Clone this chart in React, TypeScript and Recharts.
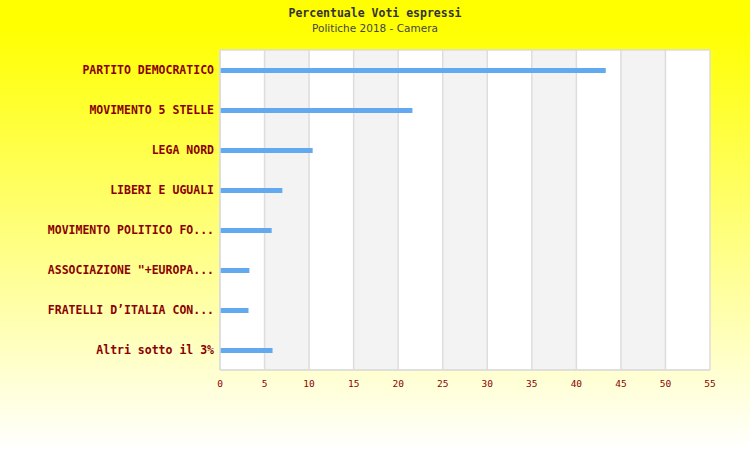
import React from "react";
import { BarChart, Bar, XAxis, YAxis, CartesianGrid } from "recharts";

const categories = [
  "PARTITO DEMOCRATICO",
  "MOVIMENTO 5 STELLE",
  "LEGA NORD",
  "LIBERI E UGUALI",
  "MOVIMENTO POLITICO FO...",
  'ASSOCIAZIONE "+EUROPA...',
  "FRATELLI D\u2019ITALIA CON...",
  "Altri sotto il 3%",
];
const votes = [43.3, 21.6, 10.4, 7.0, 5.8, 3.3, 3.2, 5.9];
const xTicks = [0, 5, 10, 15, 20, 25, 30, 35, 40, 45, 50, 55];

const data = categories.map((name, i) => ({ name, value: votes[i] }));

const mono = "'DejaVu Sans Mono', monospace";

export default function App() {
  return (
    <div
      style={{
        position: "fixed",
        left: 0,
        top: 0,
        width: 750,
        height: 450,
        background: "linear-gradient(to bottom, #ffff00 0%, #ffff00 6%, #ffffff 100%)",
      }}
    >
      <div
        style={{
          position: "absolute",
          top: 6,
          width: 750,
          textAlign: "center",
          fontFamily: mono,
          fontWeight: "bold",
          fontSize: 11.5,
          color: "#333333",
        }}
      >
        Percentuale Voti espressi
      </div>
      <div
        style={{
          position: "absolute",
          top: 22,
          width: 750,
          textAlign: "center",
          fontFamily: "'DejaVu Sans', sans-serif",
          fontSize: 10.5,
          color: "#444444",
        }}
      >
        Politiche 2018 - Camera
      </div>
      <BarChart
        width={750}
        height={450}
        data={data}
        layout="vertical"
        margin={{ top: 50, right: 40, bottom: 50, left: 0 }}
        style={{ position: "absolute", left: 0, top: 0 }}
      >
        <CartesianGrid
          horizontal={true}
          vertical={true}
          horizontalPoints={[50, 370]}
          stroke="#dddddd"
          strokeWidth={1.5}
          verticalFill={["#ffffff", "#f3f3f3"]}
          fillOpacity={1}
        />
        <XAxis
          type="number"
          domain={[0, 55]}
          ticks={xTicks}
          interval={0}
          axisLine={{ stroke: "#dddddd", strokeWidth: 1.5 }}
          tickLine={false}
          tickMargin={4}
          tick={{ fill: "#8b0000", fontSize: 9.5, fontFamily: mono }}
        />
        <YAxis
          type="category"
          dataKey="name"
          width={220}
          axisLine={{ stroke: "#dddddd", strokeWidth: 1.5 }}
          tickLine={false}
          tickMargin={0}
          tick={{
            fill: "#8b0000",
            fontSize: 11.5,
            fontFamily: mono,
            fontWeight: "bold",
          }}
        />
        <Bar
          dataKey="value"
          fill="#63a9f0"
          barSize={5}
          isAnimationActive={false}
        />
      </BarChart>
    </div>
  );
}
